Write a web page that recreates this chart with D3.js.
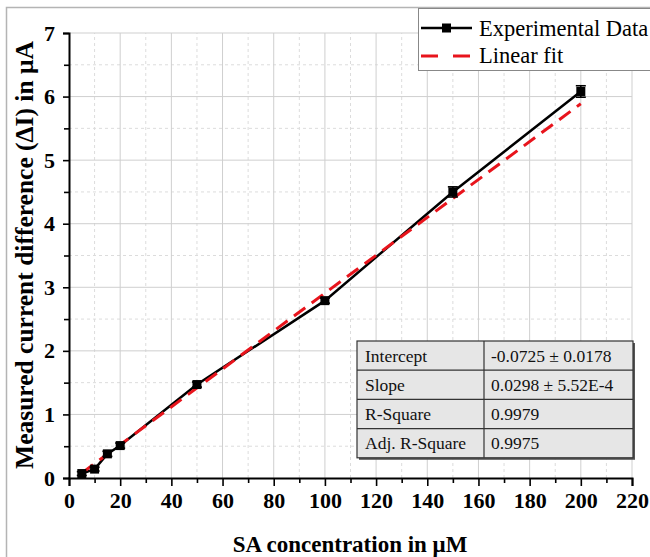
<!DOCTYPE html>
<html>
<head>
<meta charset="utf-8">
<script src="https://cdn.jsdelivr.net/npm/d3@7"></script>
<style>
  body { margin: 0; background: #fff; }
  svg text { font-family: "Liberation Serif", "Times New Roman", serif; }
</style>
</head>
<body>
<div id="chart"></div>
<script>
// measured points (SA concentration in uM, delta I in uA, error)
var concentrations = [5, 10, 15, 20, 50, 100, 150, 200];
var currents = [0.07, 0.14, 0.38, 0.51, 1.47, 2.79, 4.50, 6.08];
var errors = [0.03, 0.03, 0.04, 0.04, 0.04, 0.04, 0.08, 0.09];

// linear fit results
var fitIntercept = -0.0725;
var fitSlope = 0.0298;
var fitRange = [5, 200];

var tableLabels = ["Intercept", "Slope", "R-Square", "Adj. R-Square"];
var tableValues = ["-0.0725 \u00b1 0.0178", "0.0298 \u00b1 5.52E-4", "0.9979", "0.9975"];

var legendLabels = ["Experimental Data", "Linear fit"];

var width = 650, height = 557;
var margin = {left: 69, right: 18, top: 33, bottom: 79};

var svg = d3.select("#chart").append("svg")
  .attr("width", width)
  .attr("height", height);

// outer frame
svg.append("rect")
  .attr("x", 6.5).attr("y", 7.5)
  .attr("width", 800).attr("height", 800)
  .attr("fill", "none")
  .attr("stroke", "#b4b4b4")
  .attr("stroke-width", 1.5);

var x = d3.scaleLinear().domain([0, 220]).range([margin.left, width - margin.right]);
var y = d3.scaleLinear().domain([0, 7]).range([height - margin.bottom, margin.top]);

var grid = svg.append("g");

// minor grid (dashed)
grid.selectAll("line.xminor")
  .data(d3.range(10, 220, 20))
  .enter().append("line")
  .attr("x1", function(d) { return x(d); }).attr("x2", function(d) { return x(d); })
  .attr("y1", y(0)).attr("y2", y(7))
  .attr("stroke", "#dcdcdc").attr("stroke-dasharray", "3,3");
grid.selectAll("line.yminor")
  .data(d3.range(0.5, 7, 1))
  .enter().append("line")
  .attr("y1", function(d) { return y(d); }).attr("y2", function(d) { return y(d); })
  .attr("x1", x(0)).attr("x2", x(220))
  .attr("stroke", "#dcdcdc").attr("stroke-dasharray", "3,3");

// major grid
grid.selectAll("line.xmajor")
  .data(d3.range(20, 221, 20))
  .enter().append("line")
  .attr("x1", function(d) { return x(d); }).attr("x2", function(d) { return x(d); })
  .attr("y1", y(0)).attr("y2", y(7))
  .attr("stroke", "#cfcfcf");
grid.selectAll("line.ymajor")
  .data(d3.range(1, 8, 1))
  .enter().append("line")
  .attr("y1", function(d) { return y(d); }).attr("y2", function(d) { return y(d); })
  .attr("x1", x(0)).attr("x2", x(220))
  .attr("stroke", "#cfcfcf");

// axes
svg.append("g")
  .attr("transform", "translate(0," + y(0) + ")")
  .call(d3.axisBottom(x).tickValues(d3.range(0, 221, 20)).tickFormat(d3.format("d")).tickSize(8).tickPadding(6));
svg.append("g")
  .attr("transform", "translate(0," + y(0) + ")")
  .call(d3.axisBottom(x).tickValues(d3.range(10, 220, 20)).tickSize(5).tickFormat(""))
  .select(".domain").remove();

svg.append("g")
  .attr("transform", "translate(" + x(0) + ",0)")
  .call(d3.axisLeft(y).tickValues(d3.range(0, 8, 1)).tickFormat(d3.format("d")).tickSize(6).tickPadding(8));
svg.append("g")
  .attr("transform", "translate(" + x(0) + ",0)")
  .call(d3.axisLeft(y).tickValues(d3.range(0.5, 7, 1)).tickSize(5).tickFormat(""))
  .select(".domain").remove();

svg.selectAll(".domain").attr("stroke", "#000").attr("stroke-width", 2);
svg.selectAll(".tick line").attr("stroke", "#000").attr("stroke-width", 1.6);
svg.selectAll(".tick text")
  .attr("fill", "#000")
  .style("font-family", "'Liberation Serif', serif")
  .style("font-size", "22px")
  .style("font-weight", "bold");

// axis titles
svg.append("text")
  .attr("x", 350)
  .attr("y", 552)
  .attr("text-anchor", "middle")
  .style("font-size", "23px")
  .style("font-weight", "bold")
  .text("SA concentration in \u03bcM");

svg.append("text")
  .attr("transform", "translate(33,255) rotate(-90)")
  .attr("text-anchor", "middle")
  .style("font-size", "25.5px")
  .style("font-weight", "bold")
  .text("Measured current difference (\u0394I) in \u03bcA");

// data series
var points = concentrations.map(function(c, i) {
  return {x: c, y: currents[i], e: errors[i]};
});

var line = d3.line()
  .x(function(d) { return x(d.x); })
  .y(function(d) { return y(d.y); });

svg.append("path")
  .datum(points)
  .attr("d", line)
  .attr("fill", "none")
  .attr("stroke", "#000")
  .attr("stroke-width", 2.5);

// fit line
var fitPts = fitRange.map(function(c) { return {x: c, y: fitIntercept + fitSlope * c}; });
svg.append("path")
  .datum(fitPts)
  .attr("d", line)
  .attr("fill", "none")
  .attr("stroke", "#e8141c")
  .attr("stroke-width", 3)
  .attr("stroke-dasharray", "14,8");

// error bars
var eb = svg.selectAll("g.err")
  .data(points)
  .enter().append("g")
  .attr("class", "err");
eb.append("line")
  .attr("x1", function(d) { return x(d.x); }).attr("x2", function(d) { return x(d.x); })
  .attr("y1", function(d) { return y(d.y - d.e); }).attr("y2", function(d) { return y(d.y + d.e); })
  .attr("stroke", "#000").attr("stroke-width", 1.5);
[-1, 1].forEach(function(s) {
  eb.append("line")
    .attr("x1", function(d) { return x(d.x) - 5; }).attr("x2", function(d) { return x(d.x) + 5; })
    .attr("y1", function(d) { return y(d.y + s * d.e); }).attr("y2", function(d) { return y(d.y + s * d.e); })
    .attr("stroke", "#000").attr("stroke-width", 1.6);
});

svg.selectAll("rect.pt")
  .data(points)
  .enter().append("rect")
  .attr("class", "pt")
  .attr("x", function(d) { return x(d.x) - 4.5; })
  .attr("y", function(d) { return y(d.y) - 4.5; })
  .attr("width", 9).attr("height", 9)
  .attr("fill", "#000");

// fit statistics table
var tbl = {x: 357, y: 341, w: 276, rowH: 29.2, split: 127};
var tg = svg.append("g");
tg.append("rect")
  .attr("x", tbl.x + 2).attr("y", tbl.y + 2)
  .attr("width", tbl.w).attr("height", tbl.rowH * tableLabels.length)
  .attr("fill", "#555");
tg.append("rect")
  .attr("x", tbl.x).attr("y", tbl.y)
  .attr("width", tbl.w).attr("height", tbl.rowH * tableLabels.length)
  .attr("fill", "#e6e6e6").attr("stroke", "#333").attr("stroke-width", 1.2);
tableLabels.forEach(function(lab, i) {
  var ry = tbl.y + i * tbl.rowH;
  if (i > 0) {
    tg.append("line")
      .attr("x1", tbl.x).attr("x2", tbl.x + tbl.w)
      .attr("y1", ry).attr("y2", ry)
      .attr("stroke", "#333").attr("stroke-width", 1.2);
  }
  tg.append("text")
    .attr("x", tbl.x + 8).attr("y", ry + tbl.rowH / 2 + 6)
    .style("font-size", "17.5px").attr("fill", "#111")
    .text(lab);
  tg.append("text")
    .attr("x", tbl.x + tbl.split + 7).attr("y", ry + tbl.rowH / 2 + 6)
    .style("font-size", "17.5px").attr("fill", "#111")
    .text(tableValues[i]);
});
tg.append("line")
  .attr("x1", tbl.x + tbl.split).attr("x2", tbl.x + tbl.split)
  .attr("y1", tbl.y).attr("y2", tbl.y + tbl.rowH * tableLabels.length)
  .attr("stroke", "#333").attr("stroke-width", 1.2);

// legend
var lg = svg.append("g");
lg.append("rect")
  .attr("x", 418.5).attr("y", 8.5)
  .attr("width", 300).attr("height", 62)
  .attr("fill", "#fff").attr("stroke", "#888").attr("stroke-width", 1);
lg.append("line")
  .attr("x1", 421).attr("x2", 472).attr("y1", 28).attr("y2", 28)
  .attr("stroke", "#000").attr("stroke-width", 2.5);
lg.append("rect")
  .attr("x", 442).attr("y", 23.5).attr("width", 9).attr("height", 9).attr("fill", "#000");
lg.append("line")
  .attr("x1", 421).attr("x2", 472).attr("y1", 56).attr("y2", 56)
  .attr("stroke", "#e8141c").attr("stroke-width", 3)
  .attr("stroke-dasharray", "17,15");
legendLabels.forEach(function(t, i) {
  lg.append("text")
    .attr("x", 479).attr("y", 36 + i * 27)
    .style("font-size", "22.5px").attr("fill", "#000")
    .text(t);
});
</script>
</body>
</html>
